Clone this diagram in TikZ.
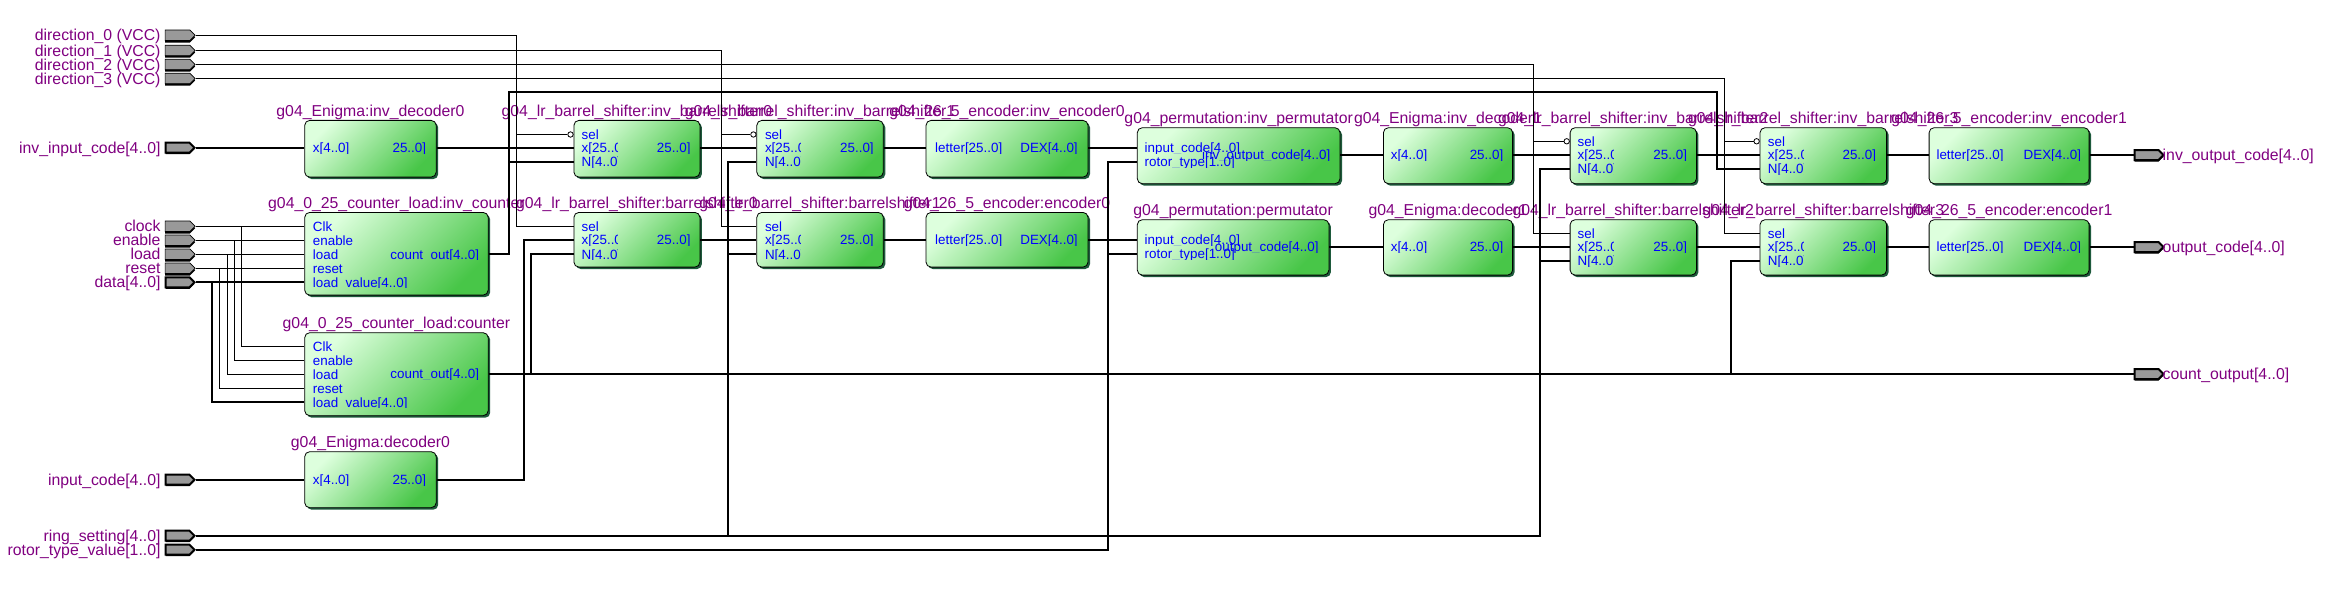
\documentclass[tikz,border=0pt]{standalone}
\usepackage{fontspec}
\setmainfont{Liberation Sans}
\usetikzlibrary{shapes.symbols,shadows,calc}
\definecolor{gL}{HTML}{DDFFDD}
\definecolor{gR}{HTML}{48C648}
\definecolor{shadowgreen}{HTML}{1E5A3C}
\definecolor{lab}{HTML}{800080}
\definecolor{pinblue}{HTML}{0000FF}
\definecolor{portgray}{HTML}{999999}
\tikzset{
  blk/.style={draw=black,line width=.8pt,rounded corners=5pt,left color=gL,right color=gR,shading angle=45,
    drop shadow={shadow xshift=2pt,shadow yshift=-2pt,fill=shadowgreen,opacity=1},anchor=north west,inner sep=0pt},
  blklabel/.style={text=lab,font=\fontsize{15.8}{16}\selectfont,anchor=base,inner sep=0pt},
  pintext/.style={text=pinblue,font=\fontsize{13.4}{14}\selectfont,inner sep=0pt,text height=9.6pt,text depth=0pt},
  portlabel/.style={text=lab,font=\fontsize{15.8}{16}\selectfont,inner sep=0pt,text height=11.3pt,text depth=0pt},
  portbit/.style={signal,signal to=east,draw=black,line width=.7pt,fill=portgray,minimum width=30pt,minimum height=10.5pt,inner sep=0pt,
    drop shadow={shadow xshift=0pt,shadow yshift=-2pt,fill=black,opacity=1}},
  portbus/.style={signal,signal to=east,draw=black,line width=2pt,fill=portgray,minimum width=29pt,minimum height=10pt,inner sep=0pt,
    drop shadow={shadow xshift=0pt,shadow yshift=-1.5pt,fill=black,opacity=1}},
  wire/.style={draw=black,line width=1pt},
  bus/.style={draw=black,line width=2pt},
  bubble/.style={circle,draw=black,fill=white,line width=.8pt,minimum size=5.4pt,inner sep=0pt}
}
% name, x, y, w, h, label
\newcommand{\blkbox}[6]{
  \node[blk,minimum width=#4pt,minimum height=#5pt] (#1) at (#2,#3) {};
  \node[blklabel] (#1-label) at ([yshift=3.5pt]#1.north) {#6};
}
% name, x, y, text, clip width
\newcommand{\pinL}[5]{
  \begin{scope}
    \clip (#2-1,#3-5.5) rectangle (#2+#5,#3+5.5);
    \node[pintext,anchor=west] (#1) at (#2,#3) {#4};
  \end{scope}
}
\newcommand{\pinR}[5]{
  \begin{scope}
    \clip (#2-#5,#3-5.5) rectangle (#2+1,#3+5.5);
    \node[pintext,anchor=east] (#1) at (#2,#3) {#4};
  \end{scope}
}
% name, left x, right x, y sel, y data, y N
\newcommand{\barrelpins}[6]{
  \pinL{#1s}{#2}{#4}{sel}{36}
  \pinL{#1x}{#2}{#5}{x[25..0]}{36}
  \pinL{#1n}{#2}{#6}{N[4..0]}{36}
  \pinR{#1q}{#3}{#5}{25..0]}{60}
}
% name, y, label, style
\newcommand{\portL}[4]{
  \node[#4] (p#1) at (177.5,#2) {};
  \node[portlabel,anchor=east] (p#1-label) at (160.7,#2) {#3};
}
\newcommand{\portR}[4]{
  \node[#4] (p#1) at (2146.5,#2) {};
  \node[portlabel,anchor=west] (p#1-label) at (2162.5,#2) {#3};
}
\begin{document}
\begin{tikzpicture}[x=1pt,y=-1pt]
\useasboundingbox (0,0) rectangle (2347,591);
% blocks
\blkbox{idec0}{304.3}{120}{131.5}{56.7}{g04\_Enigma:inv\_decoder0}
\blkbox{icnt}{304.3}{212}{183.5}{82.7}{g04\_0\_25\_counter\_load:inv\_counter}
\blkbox{cnt}{304.3}{332.3}{183.5}{83}{g04\_0\_25\_counter\_load:counter}
\blkbox{dec0}{304.3}{451.3}{131.5}{56}{g04\_Enigma:decoder0}
\blkbox{ibs0}{573.5}{120}{126}{56.7}{g04\_lr\_barrel\_shifter:inv\_barrelshifter0}
\blkbox{bs0}{573.5}{212}{126}{54.7}{g04\_lr\_barrel\_shifter:barrelshifter0}
\blkbox{ibs1}{756.4}{120}{126.5}{56.7}{g04\_lr\_barrel\_shifter:inv\_barrelshifter1}
\blkbox{bs1}{756.4}{212}{126.5}{54.7}{g04\_lr\_barrel\_shifter:barrelshifter1}
\blkbox{ienc0}{925.6}{120}{162}{56.7}{g04\_26\_5\_encoder:inv\_encoder0}
\blkbox{enc0}{925.6}{212}{162}{54.7}{g04\_26\_5\_encoder:encoder0}
\blkbox{iperm}{1136.9}{127.3}{202.7}{56}{g04\_permutation:inv\_permutator}
\blkbox{perm}{1136.9}{219.3}{191.6}{55.4}{g04\_permutation:permutator}
\blkbox{idec1}{1383}{127.3}{129.2}{56}{g04\_Enigma:inv\_decoder1}
\blkbox{dec1}{1383}{219.3}{129.2}{55.4}{g04\_Enigma:decoder1}
\blkbox{ibs2}{1569.7}{127.3}{126.3}{56}{g04\_lr\_barrel\_shifter:inv\_barrelshifter2}
\blkbox{bs2}{1569.7}{219.3}{126.3}{55.4}{g04\_lr\_barrel\_shifter:barrelshifter2}
\blkbox{ibs3}{1759.6}{127.3}{126.6}{56}{g04\_lr\_barrel\_shifter:inv\_barrelshifter3}
\blkbox{bs3}{1759.6}{219.3}{126.6}{55.4}{g04\_lr\_barrel\_shifter:barrelshifter3}
\blkbox{ienc1}{1928.7}{127.3}{160}{56}{g04\_26\_5\_encoder:inv\_encoder1}
\blkbox{enc1}{1928.7}{219.3}{160}{55.4}{g04\_26\_5\_encoder:encoder1}
% pins
\pinL{idec0x}{312.7}{147.7}{x[4..0]}{60}
\pinR{idec0q}{426.3}{147.7}{25..0]}{60}
\pinL{dec0x}{312.7}{479.7}{x[4..0]}{60}
\pinR{dec0q}{426.3}{479.7}{25..0]}{60}
\pinL{icntc}{312.7}{226.3}{Clk}{60}
\pinL{icnte}{312.7}{240.3}{enable}{60}
\pinL{icntl}{312.7}{254.3}{load}{60}
\pinL{icntr}{312.7}{268.3}{reset}{60}
\pinL{icntv}{312.7}{282.3}{load\_value[4..0]}{110}
\pinR{icntq}{479.3}{254.3}{count\_out[4..0]}{110}
\pinL{cntc}{312.7}{346.3}{Clk}{60}
\pinL{cnte}{312.7}{360.3}{enable}{60}
\pinL{cntl}{312.7}{374.3}{load}{60}
\pinL{cntr}{312.7}{388.3}{reset}{60}
\pinL{cntv}{312.7}{402.3}{load\_value[4..0]}{110}
\pinR{cntq}{479.3}{374}{count\_out[4..0]}{110}
\barrelpins{ibs0}{581.5}{690.7}{134.5}{147.7}{161.7}
\barrelpins{bs0}{581.5}{690.7}{226.3}{239.7}{254.3}
\barrelpins{ibs1}{764.8}{873.9}{134.5}{147.7}{161.7}
\barrelpins{bs1}{764.8}{873.9}{226.3}{239.7}{254.3}
\pinL{ienc0x}{935}{147.7}{letter[25..0]}{75}
\pinR{ienc0q}{1077.9}{147.7}{DEX[4..0]}{70}
\pinL{enc0x}{935}{239.7}{letter[25..0]}{75}
\pinR{enc0q}{1077.9}{239.7}{DEX[4..0]}{70}
\pinL{ipermx}{1144.5}{147.7}{input\_code[4..0]}{110}
\pinL{ipermr}{1144.5}{161.7}{rotor\_type[1..0]}{110}
\pinR{ipermq}{1330.5}{155}{inv\_output\_code[4..0]}{140}
\pinL{permx}{1144.5}{239.7}{input\_code[4..0]}{110}
\pinL{permr}{1144.5}{253.7}{rotor\_type[1..0]}{110}
\pinR{permq}{1318.7}{247}{output\_code[4..0]}{120}
\pinL{idec1x}{1390.6}{155}{x[4..0]}{60}
\pinR{idec1q}{1503.5}{155}{25..0]}{60}
\pinL{dec1x}{1390.6}{247}{x[4..0]}{60}
\pinR{dec1q}{1503.5}{247}{25..0]}{60}
\barrelpins{ibs2}{1577.4}{1687.2}{141.3}{155}{169}
\barrelpins{bs2}{1577.4}{1687.2}{233.3}{247}{261}
\barrelpins{ibs3}{1767.7}{1876.3}{141.3}{155}{169}
\barrelpins{bs3}{1767.7}{1876.3}{233.3}{247}{261}
\pinL{ienc1x}{1936.3}{155}{letter[25..0]}{75}
\pinR{ienc1q}{2081.2}{155}{DEX[4..0]}{70}
\pinL{enc1x}{1936.3}{247}{letter[25..0]}{75}
\pinR{enc1q}{2081.2}{247}{DEX[4..0]}{70}
% ports
\portL{dir0}{35.3}{direction\_0 (VCC)}{portbit}
\portL{dir1}{50.5}{direction\_1 (VCC)}{portbit}
\portL{dir2}{64.5}{direction\_2 (VCC)}{portbit}
\portL{dir3}{78.5}{direction\_3 (VCC)}{portbit}
\portL{iin}{147.7}{inv\_input\_code[4..0]}{portbus}
\portL{clk}{226.3}{clock}{portbit}
\portL{en}{240.3}{enable}{portbit}
\portL{ld}{254.3}{load}{portbit}
\portL{rst}{268.3}{reset}{portbit}
\portL{dat}{282.3}{data[4..0]}{portbus}
\portL{in}{479.7}{input\_code[4..0]}{portbus}
\portL{ring}{535.7}{ring\_setting[4..0]}{portbus}
\portL{rot}{549.7}{rotor\_type\_value[1..0]}{portbus}
\portR{iout}{155}{inv\_output\_code[4..0]}{portbus}
\portR{out}{247}{output\_code[4..0]}{portbus}
\portR{cout}{374}{count\_output[4..0]}{portbus}
% bubbles on inverted selects
\node[bubble] (bi0) at (570.5,134.5) {};
\node[bubble] (bi1) at (753.4,134.5) {};
\node[bubble] (bi2) at (1566.7,141.3) {};
\node[bubble] (bi3) at (1756.6,141.3) {};
% routing points
\coordinate (j0) at (516.3,134.5);
\coordinate (j1) at (721.6,134.5);
\coordinate (j2) at (1533.3,141.3);
\coordinate (j3) at (1724.3,141.3);
\coordinate (tl) at (509.4,91.7);
\coordinate (tr) at (1716.7,91.7);
\coordinate (ca) at (524,239.7);
\coordinate (cb) at (530.8,374);
\coordinate (cc) at (1731,374);
\coordinate (rr1) at (728,535.7);
\coordinate (rr2) at (1540,535.7);
\coordinate (rt) at (1108,549.7);
\coordinate (kc) at (241.5,226.3);
\coordinate (ke) at (234.6,240.3);
\coordinate (kl) at (227.7,254.3);
\coordinate (kr) at (219.7,268.3);
\coordinate (kd) at (212,282.3);
% direction wires
\draw[wire] (pdir0.east) -| (j0) |- (bs0s -| bs0.west);
\draw[wire] (j0) -- (bi0.west);
\draw[wire] (pdir1.east) -| (j1) |- (bs1s -| bs1.west);
\draw[wire] (j1) -- (bi1.west);
\draw[wire] (pdir2.east) -| (j2) |- (bs2s -| bs2.west);
\draw[wire] (j2) -- (bi2.west);
\draw[wire] (pdir3.east) -| (j3) |- (bs3s -| bs3.west);
\draw[wire] (j3) -- (bi3.west);
% control wires
\draw[wire] (pclk.east) -- (icntc -| icnt.west);
\draw[wire] (kc) |- (cntc -| cnt.west);
\draw[wire] (pen.east) -- (icnte -| icnt.west);
\draw[wire] (ke) |- (cnte -| cnt.west);
\draw[wire] (pld.east) -- (icntl -| icnt.west);
\draw[wire] (kl) |- (cntl -| cnt.west);
\draw[wire] (prst.east) -- (icntr -| icnt.west);
\draw[wire] (kr) |- (cntr -| cnt.west);
\draw[bus] (pdat.east) -- (icntv -| icnt.west);
\draw[bus] (kd) |- (cntv -| cnt.west);
% upper chain
\draw[bus] (piin.east) -- (idec0x -| idec0.west);
\draw[bus] (idec0q -| idec0.east) -- (ibs0x -| ibs0.west);
\draw[bus] (ibs0q -| ibs0.east) -- (ibs1x -| ibs1.west);
\draw[bus] (ibs1q -| ibs1.east) -- (ienc0x -| ienc0.west);
\draw[bus] (ienc0q -| ienc0.east) -- (ipermx -| iperm.west);
\draw[bus] (ipermq -| iperm.east) -- (idec1x -| idec1.west);
\draw[bus] (idec1q -| idec1.east) -- (ibs2x -| ibs2.west);
\draw[bus] (ibs2q -| ibs2.east) -- (ibs3x -| ibs3.west);
\draw[bus] (ibs3q -| ibs3.east) -- (ienc1x -| ienc1.west);
\draw[bus] (ienc1q -| ienc1.east) -- (piout.west);
% lower chain
\draw[bus] (pin.east) -- (dec0x -| dec0.west);
\draw[bus] (dec0q -| dec0.east) -| (ca) -- (bs0x -| bs0.west);
\draw[bus] (bs0q -| bs0.east) -- (bs1x -| bs1.west);
\draw[bus] (bs1q -| bs1.east) -- (enc0x -| enc0.west);
\draw[bus] (enc0q -| enc0.east) -- (permx -| perm.west);
\draw[bus] (permq -| perm.east) -- (dec1x -| dec1.west);
\draw[bus] (dec1q -| dec1.east) -- (bs2x -| bs2.west);
\draw[bus] (bs2q -| bs2.east) -- (bs3x -| bs3.west);
\draw[bus] (bs3q -| bs3.east) -- (enc1x -| enc1.west);
\draw[bus] (enc1q -| enc1.east) -- (pout.west);
% inverse counter
\draw[bus] (icntq -| icnt.east) -| (tl) -- (tr) |- (ibs3n -| ibs3.west);
\draw[bus] (tl |- ibs0n) -- (ibs0n -| ibs0.west);
% counter
\draw[bus] (cntq -| cnt.east) -- (pcout.west);
\draw[bus] (cb) |- (bs0n -| bs0.west);
\draw[bus] (cc) |- (bs3n -| bs3.west);
% ring setting
\draw[bus] (pring.east) -- (rr2) |- (ibs2n -| ibs2.west);
\draw[bus] (rr2 |- bs2n) -- (bs2n -| bs2.west);
\draw[bus] (rr1) |- (ibs1n -| ibs1.west);
\draw[bus] (rr1 |- bs1n) -- (bs1n -| bs1.west);
% rotor type
\draw[bus] (prot.east) -- (rt) |- (ipermr -| iperm.west);
\draw[bus] (rt |- permr) -- (permr -| perm.west);
\end{tikzpicture}
\end{document}
